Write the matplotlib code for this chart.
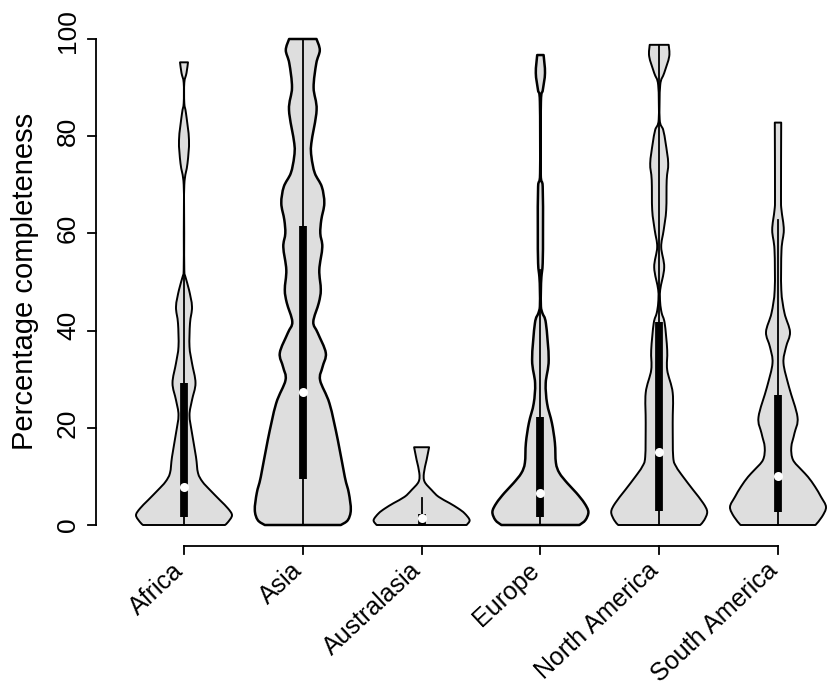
import numpy as np
import matplotlib.pyplot as plt
from matplotlib.path import Path
from matplotlib.patches import PathPatch

plt.rcParams['font.family'] = ['Liberation Sans', 'DejaVu Sans']

regions = ['Africa', 'Asia', 'Australasia', 'Europe', 'North America', 'South America']

# violin outlines: percentage, half width in px
africa_y = [0, 0.6, 2, 3.4, 5.1, 7.2, 8.9, 10.7, 14, 18.9, 22.6, 25.7, 29.2, 33.3, 36.7, 41.5, 44.9, 48.4, 51, 52.5, 60, 70, 74.4, 79.2, 84.7, 86.8, 91, 93, 95.2]
africa_w = [41, 44, 48, 44, 36, 26, 18.5, 14, 12, 8, 5.5, 8, 11.5, 8, 5.5, 6, 8, 5, 1.5, 0.3, 0.2, 0.3, 3.5, 5, 2, 0.3, 0.3, 2.5, 4]
asia_y = [0, 1, 3.1, 6.6, 9.9, 17.5, 25, 29.8, 32.5, 35.4, 39.5, 41.8, 45.7, 48.4, 52.5, 57.2, 60, 62.8, 66.2, 69.6, 72.4, 75.7, 78.5, 85.4, 90, 95, 97.7, 100]
asia_w = [38, 45, 48, 46, 42, 35, 26.7, 17.3, 19.7, 23, 15, 10.5, 16, 18, 16.5, 19.5, 17.5, 18.5, 21.5, 19, 12, 8.7, 8.5, 13.8, 10.8, 13.5, 17, 13.7]
austral_y = [0, 1, 2.4, 3.4, 4.5, 5.8, 7.2, 8.9, 10.7, 13.4, 16]
austral_w = [45, 48, 43, 36.7, 28, 17, 10, 3, 2.3, 5, 7.5]
europe_y = [0, 1, 2.7, 4.5, 6.6, 8.6, 10.7, 12.8, 16.9, 21, 25, 29.2, 34, 41.5, 43.6, 45, 48.4, 51, 53.9, 60.7, 69.6, 72.4, 87, 89.5, 93, 96.7]
europe_w = [39, 45, 48, 44, 36, 27, 19, 15.5, 14.5, 11.5, 6.7, 5.3, 8.3, 5.5, 2, 0.5, 0.5, 1, 2.3, 2.6, 2.3, 0.3, 0.5, 2.4, 4.6, 3.2]
namerica_y = [0, 1, 2.7, 4.5, 7.2, 9.9, 12, 14, 21, 27.2, 31.9, 36, 41.5, 43.6, 45.7, 48.4, 53, 57.2, 60.7, 64.8, 71, 74.4, 78.5, 81.3, 83.4, 90.5, 93, 96.4, 98.8]
namerica_w = [41, 45, 48, 44, 34, 24, 17, 14, 13.5, 13.5, 8, 8, 5.5, 2.5, 1, 1, 5, 2, 4.5, 7, 7.5, 9, 6.5, 4, 0.5, 1, 5, 10, 9.5]
samerica_y = [0, 1.7, 3.7, 5.8, 7.9, 9.9, 11.3, 13.4, 16, 18.9, 22.2, 28.4, 33.3, 36.6, 39.7, 43.6, 48.4, 56.6, 60.7, 64.8, 67.5, 82.8]
samerica_w = [37.5, 44, 48, 43, 37, 30, 23.7, 15, 13.3, 16.5, 19.5, 11, 5.5, 8, 12, 6.5, 3.3, 3.5, 5.8, 3.5, 3, 3.2]

violin_y = [africa_y, asia_y, austral_y, europe_y, namerica_y, samerica_y]
violin_w = [africa_w, asia_w, austral_w, europe_w, namerica_w, samerica_w]

whisker_high = [70, 100, 5.5, 52.5, 98.8, 62.8]
box_low = [1.7, 9.5, 0, 1.7, 2.9, 2.6]
box_high = [29.2, 61.6, 2.3, 22.3, 41.7, 26.8]
medians = [7.8, 27.3, 1.4, 6.6, 15, 10]
y_ticks = [0, 20, 40, 60, 80, 100]

PX_PER_UNIT = 118.8
PX_PER_PCT = 4.86


def side_curve(pts):
    # bezier segments through the read points
    verts = []
    codes = []
    n = len(pts)
    for i in range(n - 1):
        p0 = pts[max(i - 1, 0)]
        p3 = pts[min(i + 2, n - 1)]
        verts += [pts[i] + (pts[i + 1] - p0) / 6, pts[i + 1] - (p3 - pts[i]) / 6, pts[i + 1]]
        codes += [Path.CURVE4] * 3
    return verts, codes


def violin_path(pos, y, w):
    w = np.array(w) / PX_PER_UNIT
    right = np.column_stack([pos + w, y])
    left = np.column_stack([pos - w, y])[::-1]
    verts = [right[0]]
    codes = [Path.MOVETO]
    v, c = side_curve(right)
    verts += v
    codes += c
    verts.append(left[0])
    codes.append(Path.LINETO)
    v, c = side_curve(left)
    verts += v
    codes += c
    verts.append(right[0])
    codes.append(Path.CLOSEPOLY)
    return Path(verts, codes)


fig = plt.figure(figsize=(8.28, 6.88), dpi=100)
ax = fig.add_axes([0, 0, 1, 1])
ax.set_xlim(1 - 184 / PX_PER_UNIT, 1 + (828 - 184) / PX_PER_UNIT)
ax.set_ylim((525 - 688) / PX_PER_PCT, 525 / PX_PER_PCT)
ax.axis('off')

for i in range(len(regions)):
    pos = i + 1
    lw = 1.8 if i in (1, 3) else 1.4
    ax.add_patch(PathPatch(violin_path(pos, violin_y[i], violin_w[i]), facecolor='#dedede', edgecolor='black', linewidth=lw, joinstyle='round', zorder=2))
    ax.plot([pos, pos], [0, whisker_high[i]], color='black', linewidth=1.3, zorder=3)
    ax.plot([pos, pos], [box_low[i], box_high[i]], color='black', linewidth=5.6, solid_capstyle='butt', zorder=4)
    ax.plot(pos, medians[i], 'o', color='white', markersize=6.5, markeredgewidth=0, zorder=5)

# R style axes, drawn by hand
axis_y = (525 - 546) / PX_PER_PCT
tick_y = (525 - 554) / PX_PER_PCT
ax.plot([1, 6], [axis_y, axis_y], color='black', linewidth=1.3, solid_capstyle='projecting')
for i, name in enumerate(regions):
    pos = i + 1
    ax.plot([pos, pos], [axis_y, tick_y], color='black', linewidth=1.3)
    ax.annotate(name, xy=(pos, tick_y), xytext=(-9, -3), textcoords='offset points', rotation=43, ha='right', va='top', rotation_mode='anchor', fontsize=18, annotation_clip=False)

axis_x = 1 + (96.5 - 184) / PX_PER_UNIT
tick_x = 1 + (88 - 184) / PX_PER_UNIT
label_x = 1 + (68 - 184) / PX_PER_UNIT
ax.plot([axis_x, axis_x], [0, 100], color='black', linewidth=1.3, solid_capstyle='projecting')
label_shift = [0, 4, 5, 5, 5, 8]
for v, s in zip(y_ticks, label_shift):
    ax.plot([tick_x, axis_x], [v, v], color='black', linewidth=1.3)
    ax.text(label_x, v + s / PX_PER_PCT, str(v), rotation=90, ha='center', va='center', fontsize=19)
ax.text(1 + (25 - 184) / PX_PER_UNIT, (525 - 281.5) / PX_PER_PCT, 'Percentage completeness', rotation=90, ha='center', va='center', fontsize=21)

fig.savefig('out.png', dpi=100)
